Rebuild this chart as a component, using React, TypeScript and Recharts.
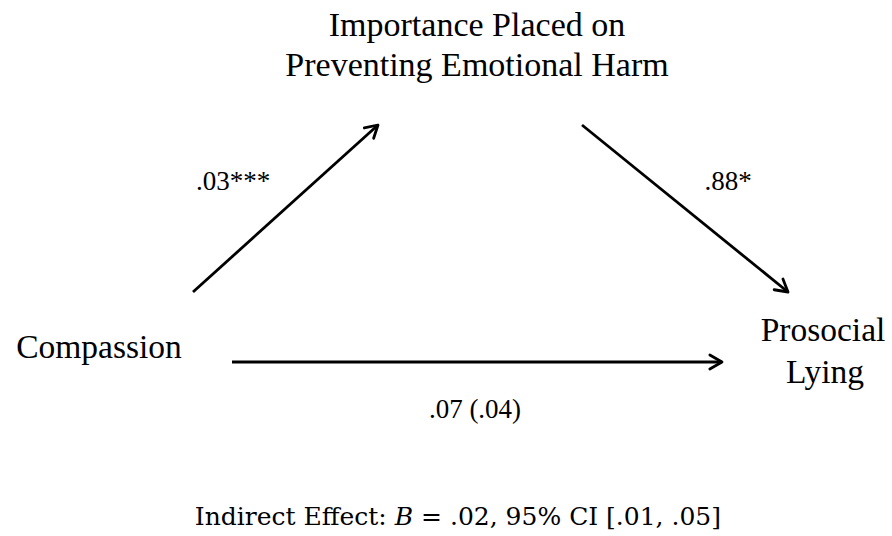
import React from 'react'
import { ScatterChart, Scatter, XAxis, YAxis, ReferenceLine } from 'recharts'

// diagram laid out in its own units: x 0..892, y 0..536 (y grows downward)
const mediatorLines = [
  { x: 477, y: 36, text: 'Importance Placed on' },
  { x: 477, y: 76, text: 'Preventing Emotional Harm' },
]

const nodeLabels = [
  { x: 99, y: 358, text: 'Compassion' },
  { x: 823, y: 341, text: 'Prosocial' },
  { x: 825, y: 383, text: 'Lying' },
]

const pathLabels = [
  { x: 233, y: 190, text: '.03***' },
  { x: 728, y: 190, text: '.88*' },
  { x: 475, y: 418, text: '.07 (.04)' },
]

const arrows = [
  { id: 'a', from: { x: 193, y: 292 }, to: { x: 378, y: 125 } },
  { id: 'b', from: { x: 582, y: 125 }, to: { x: 788, y: 292 } },
  { id: 'c', from: { x: 232, y: 362 }, to: { x: 722, y: 362 } },
]

const indirect = [{ x: 721, y: 525, pre: 'Indirect Effect: ', b: 'B', post: ' = .02, 95% CI [.01, .05]' }]

const SERIF = '"Liberation Serif", "Times New Roman", serif'
const MATH = '"DejaVu Serif", Cambria, serif'

function ArrowShape(props: any) {
  const { x1, y1, x2, y2 } = props
  const ang = Math.atan2(y2 - y1, x2 - x1)
  const len = 14
  const spread = 0.52
  const hx1 = x2 - len * Math.cos(ang - spread)
  const hy1 = y2 - len * Math.sin(ang - spread)
  const hx2 = x2 - len * Math.cos(ang + spread)
  const hy2 = y2 - len * Math.sin(ang + spread)
  return (
    <g>
      <line x1={x1} y1={y1} x2={x2} y2={y2} stroke="#000" strokeWidth={2.8} />
      <path
        d={`M${hx1},${hy1} L${x2},${y2} L${hx2},${hy2}`}
        fill="none"
        stroke="#000"
        strokeWidth={2.8}
        strokeLinecap="round"
        strokeLinejoin="round"
      />
    </g>
  )
}

function makeText(size: number) {
  return (props: any) => {
    const { cx, cy, payload } = props
    return (
      <text x={cx} y={cy} textAnchor="middle" fontFamily={SERIF} fontSize={size} fill="#000">
        {payload.text}
      </text>
    )
  }
}

function IndirectShape(props: any) {
  const { cx, cy, payload } = props
  return (
    <text x={cx} y={cy} textAnchor="end" fontFamily={MATH} fontSize={25} fill="#000">
      {payload.pre}
      <tspan fontStyle="italic">{payload.b}</tspan>
      {payload.post}
    </text>
  )
}

export default function App() {
  return (
    <div style={{ position: 'absolute', left: 0, top: 0, background: '#fff' }}>
      <ScatterChart width={892} height={536} margin={{ top: 0, right: 0, bottom: 0, left: 0 }}>
        <XAxis type="number" dataKey="x" domain={[0, 892]} hide />
        <YAxis type="number" dataKey="y" domain={[0, 536]} reversed hide />
        {arrows.map((a) => (
          <ReferenceLine key={a.id} segment={[a.from, a.to]} shape={ArrowShape} ifOverflow="visible" />
        ))}
        <Scatter data={mediatorLines} shape={makeText(34)} isAnimationActive={false} />
        <Scatter data={nodeLabels} shape={makeText(33.5)} isAnimationActive={false} />
        <Scatter data={pathLabels} shape={makeText(27)} isAnimationActive={false} />
        <Scatter data={indirect} shape={IndirectShape} isAnimationActive={false} />
      </ScatterChart>
    </div>
  )
}
